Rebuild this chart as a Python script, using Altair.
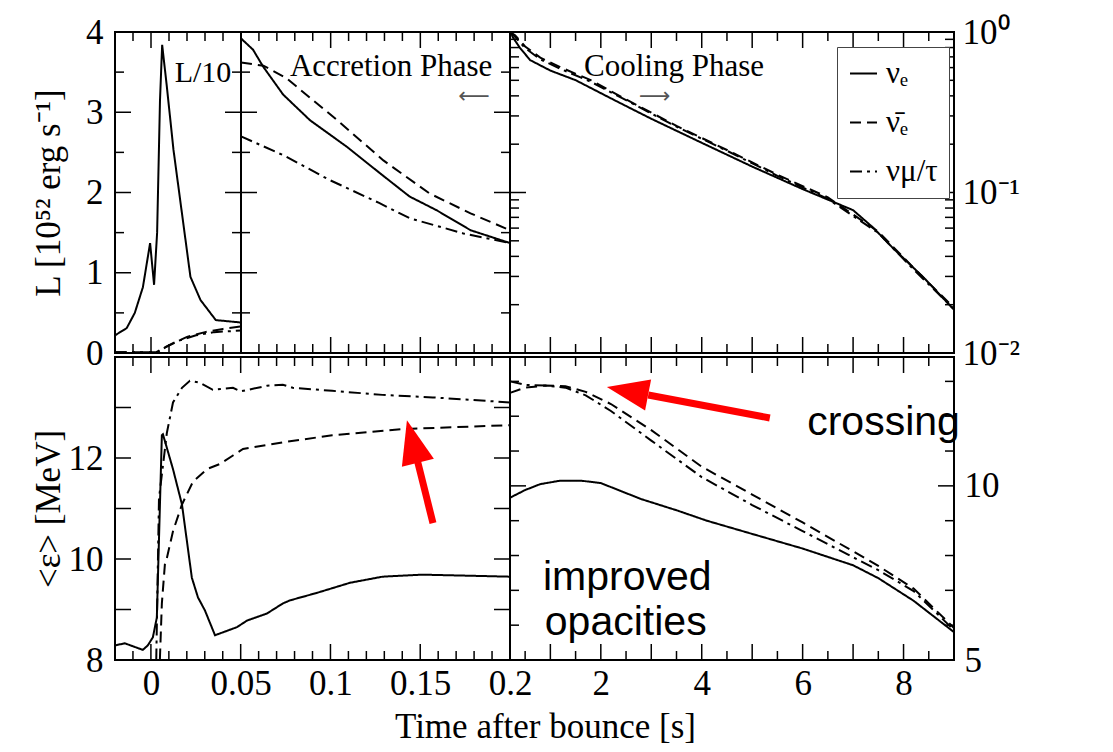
import altair as alt
import pandas as pd

SERIF = "Liberation Serif"
SANS = "Liberation Sans"
RED = "#ff0000"

FLAVORS = ["νₑ", "ν̄ₑ", "νμ/τ"]
DASHES = [[1, 0], [11, 6], [12, 5, 3, 5]]

# ---------------- data ----------------
# top-left panel: L/10 [1e52 erg/s], t in s
A_t_nue = [-0.02, -0.0135, -0.009, -0.0045, -0.0005, 0.0017, 0.0034, 0.005, 0.0062, 0.0088, 0.0125, 0.0172, 0.0219, 0.0275, 0.036, 0.05]
A_L_nue = [0.22, 0.31, 0.5, 0.82, 1.37, 0.85, 1.5, 3.15, 3.84, 3.32, 2.53, 1.74, 0.95, 0.66, 0.41, 0.38]
A_t_anue = [-0.02, 0.003, 0.006, 0.012, 0.02, 0.03, 0.04, 0.05]
A_L_anue = [0.01, 0.01, 0.05, 0.12, 0.2, 0.26, 0.3, 0.33]
A_t_nux = [-0.02, 0.004, 0.008, 0.015, 0.025, 0.035, 0.05]
A_L_nux = [0.01, 0.01, 0.07, 0.15, 0.22, 0.26, 0.28]

# top-middle panel: accretion phase, L [1e52 erg/s]
B_t_nue = [0.05, 0.0567, 0.0623, 0.0735, 0.0885, 0.109, 0.1275, 0.144, 0.159, 0.178, 0.2]
B_L_nue = [3.92, 3.78, 3.57, 3.22, 2.9, 2.57, 2.24, 1.95, 1.78, 1.53, 1.37]
B_t_anue = [0.05, 0.0625, 0.075, 0.1037, 0.1294, 0.155, 0.178, 0.2]
B_L_anue = [3.62, 3.58, 3.43, 2.9, 2.4, 1.99, 1.74, 1.53]
B_t_nux = [0.05, 0.075, 0.099, 0.127, 0.144, 0.174, 0.2]
B_L_nux = [2.7, 2.45, 2.16, 1.87, 1.68, 1.49, 1.37]

# top-right panel: cooling phase (log scale)
C_t_nue = [0.2, 0.25, 0.4, 0.6, 1.0, 1.5, 2.3, 3.0, 4.0, 5.0, 6.0, 7.0, 7.4, 7.8, 8.4, 9.0]
C_L_nue = [1.047, 0.933, 0.794, 0.668, 0.575, 0.501, 0.372, 0.288, 0.204, 0.145, 0.105, 0.0776, 0.0603, 0.0447, 0.0295, 0.0186]
C_t_anue = [0.2, 0.3, 0.5, 0.8, 1.2, 1.8, 2.5, 3.5, 4.5, 5.5, 6.5, 7.5, 8.2, 9.0]
C_L_anue = [1.0, 0.955, 0.813, 0.692, 0.603, 0.501, 0.380, 0.260, 0.184, 0.129, 0.0933, 0.0570, 0.0339, 0.0191]
C_t_nux = [0.2, 0.3, 0.5, 0.8, 1.2, 1.8, 2.5, 3.5, 4.5, 5.5, 6.5, 7.5, 8.2, 9.0]
C_L_nux = [1.0, 0.933, 0.794, 0.676, 0.589, 0.490, 0.376, 0.257, 0.182, 0.127, 0.0912, 0.0560, 0.0331, 0.0188]

# bottom-left panel: mean energy [MeV]
D_t_nue = [-0.02, -0.0145, -0.0045, -0.0017, 0.0011, 0.0033, 0.0045, 0.0061, 0.0067, 0.0123, 0.0173, 0.0228, 0.0262, 0.0301, 0.0357, 0.0479, 0.0535, 0.0646, 0.0735, 0.0774, 0.0925, 0.111, 0.129, 0.151, 0.176, 0.2]
D_E_nue = [8.29, 8.33, 8.2, 8.29, 8.45, 8.84, 10.4, 12.45, 12.47, 11.78, 11.08, 9.63, 9.24, 8.98, 8.49, 8.65, 8.78, 8.92, 9.12, 9.18, 9.33, 9.53, 9.65, 9.69, 9.67, 9.65]
D_t_anue = [0.004, 0.0061, 0.0078, 0.0089, 0.0123, 0.0173, 0.0234, 0.0312, 0.0384, 0.0457, 0.0513, 0.0735, 0.101, 0.139, 0.2]
D_E_anue = [7.0, 9.12, 9.9, 10.02, 10.55, 11.08, 11.53, 11.78, 11.88, 12.05, 12.18, 12.31, 12.45, 12.57, 12.65]
D_t_nux = [0.0025, 0.0045, 0.0089, 0.0123, 0.0173, 0.0217, 0.0273, 0.0345, 0.0457, 0.05, 0.0646, 0.0735, 0.079, 0.101, 0.129, 0.157, 0.2]
D_E_nux = [7.0, 11.2, 12.5, 13.1, 13.39, 13.53, 13.49, 13.35, 13.39, 13.32, 13.43, 13.45, 13.39, 13.33, 13.25, 13.2, 13.1]

# bottom-right panel: mean energy [MeV], cooling
E_t_nue = [0.2, 0.5, 0.8, 1.2, 1.6, 2.0, 2.8, 3.5, 4.1, 5.0, 6.0, 7.0, 7.5, 8.2, 9.0]
E_E_nue = [9.66, 9.88, 10.05, 10.15, 10.15, 10.08, 9.62, 9.3, 9.0, 8.62, 8.2, 7.72, 7.35, 6.7, 5.8]
E_t_anue = [0.2, 0.5, 0.9, 1.3, 1.7, 2.2, 3.0, 4.0, 5.0, 6.0, 7.0, 7.5, 8.2, 9.0]
E_E_anue = [12.67, 12.82, 12.88, 12.86, 12.7, 12.35, 11.6, 10.55, 9.75, 8.95, 8.12, 7.7, 7.05, 5.92]
E_t_nux = [0.2, 0.5, 0.9, 1.3, 1.7, 2.2, 3.0, 4.0, 5.0, 6.0, 7.0, 7.5, 8.2, 9.0]
E_E_nux = [13.0, 12.9, 12.88, 12.82, 12.6, 12.15, 11.3, 10.25, 9.45, 8.7, 7.95, 7.58, 6.98, 5.86]

# time breaks between the sub-panels, value domains, tick values
TOP_BREAKS = [-0.02, 0.05, 0.2, 9.0]
BOT_BREAKS = [-0.02, 0.2, 9.0]
L_YDOM, C_YDOM, D_YDOM, E_YDOM = [0, 4], [0.01, 1], [8, 14], [5, 13.7]

A_XMAJ, A_XMIN = [0], [-0.01, 0.01, 0.02, 0.03, 0.04]
B_XMAJ = [0.1, 0.15]
B_XMIN = [0.06, 0.07, 0.08, 0.09, 0.11, 0.12, 0.13, 0.14, 0.16, 0.17, 0.18, 0.19]
D_XMAJ = [0, 0.05, 0.1, 0.15]
D_XMIN = [-0.01, 0.01, 0.02, 0.03, 0.04, 0.06, 0.07, 0.08, 0.09, 0.11, 0.12, 0.13, 0.14, 0.16, 0.17, 0.18, 0.19]
CE_XMAJ = [1, 2, 3, 4, 5, 6, 7, 8]
CE_XMIN = [0.5, 1.5, 2.5, 3.5, 4.5, 5.5, 6.5, 7.5, 8.5]
L_YMAJ, L_YMIN = [1, 2, 3], [0.5, 1.5, 2.5, 3.5]
C_YMAJ = [0.1]
C_YMIN = [0.02, 0.03, 0.04, 0.05, 0.06, 0.07, 0.08, 0.09, 0.2, 0.3, 0.4, 0.5, 0.6, 0.7, 0.8, 0.9]
D_YMAJ = [9, 10, 11, 12, 13]
E_YMAJ, E_YMIN = [10], [6, 7, 8, 9, 11, 12, 13]
BOTTOM_LABELS = [0, 0.05, 0.1, 0.15, 0.2, 2, 4, 6, 8]

HEAD = "M0,0 L0.75,2 L-0.75,2 Z"
MAJ, MIN = 16, 9
RULE = dict(color="black", strokeWidth=1.5)

# ---------------- geometry of the panels ----------------
WA, WB, WC = 126, 269, 444
WD, WE = 395, 444
HT, HB = 321, 303
WT = WA + WB + WC
WBOT = WD + WE

X_TOP = alt.Scale(domain=TOP_BREAKS, range=[0, WA, WA + WB, WT], nice=False, zero=False)
X_BOT = alt.Scale(domain=BOT_BREAKS, range=[0, WD, WBOT], nice=False, zero=False)
Y_L = alt.Scale(domain=L_YDOM, nice=False, zero=False)
Y_C = alt.Scale(domain=C_YDOM, type="log", nice=False)
Y_D = alt.Scale(domain=D_YDOM, nice=False, zero=False)
Y_E = alt.Scale(domain=E_YDOM, nice=False, zero=False)


def ex(xs, axis=None):
    return alt.X("t:Q", scale=xs, axis=axis)


def ey(ys, axis=None):
    return alt.Y("v:Q", scale=ys, axis=axis)


def series(*parts):
    rows = []
    for flav, ts, vs in parts:
        for t, v in zip(ts, vs):
            rows.append({"t": t, "v": v, "flavor": flav})
    return pd.DataFrame(rows)


def line_layer(df, xs, ys, legend):
    return alt.Chart(df).mark_line(color="black", strokeWidth=2, clip=True).encode(
        x=ex(xs), y=ey(ys),
        strokeDash=alt.StrokeDash("flavor:N", sort=FLAVORS,
                                  scale=alt.Scale(domain=FLAVORS, range=DASHES),
                                  legend=legend))


def xtick_layers(vals, size, xs, h):
    d = pd.DataFrame({"t": vals})
    return [alt.Chart(d).mark_rule(**RULE).encode(x=ex(xs), y=alt.value(h), y2=alt.value(h - size)),
            alt.Chart(d).mark_rule(**RULE).encode(x=ex(xs), y=alt.value(0), y2=alt.value(size))]


def ytick_layer(vals, size, ys, xpix, direction):
    d = pd.DataFrame({"v": vals})
    return alt.Chart(d).mark_rule(**RULE).encode(
        y=ey(ys), x=alt.value(xpix), x2=alt.value(xpix + direction * size))


def divider_layer(vals, xs, h):
    d = pd.DataFrame({"t": vals})
    return alt.Chart(d).mark_rule(color="black", strokeWidth=2).encode(
        x=ex(xs), y=alt.value(0), y2=alt.value(h))


def label_axis(orient, values, **kw):
    base = dict(orient=orient, values=values, ticks=False, tickSize=0, domain=False,
                grid=False, labelFont=SERIF, labelFontSize=35, labelColor="black",
                labelFlush=False, labelOverlap=False, labelBound=False)
    base.update(kw)
    return alt.Axis(**base)


def xlabel_layer(axis, xs, ys, tdom, vdom):
    d = pd.DataFrame({"t": [tdom[0], tdom[-1]], "v": vdom})
    return alt.Chart(d).mark_point(opacity=0).encode(x=ex(xs, axis), y=ey(ys))


def ylabel_layer(axis, xs, ys, tdom, vdom):
    d = pd.DataFrame({"t": [tdom[0], tdom[-1]], "v": vdom})
    return alt.Chart(d).mark_point(opacity=0).encode(x=ex(xs), y=ey(ys, axis))


def text_layer(t, v, text, style, xs, ys):
    d = pd.DataFrame({"t": [t], "v": [v], "label": [text]})
    return alt.Chart(d).mark_text(**style).encode(x=ex(xs), y=ey(ys), text="label:N")


def arrow_layers(ar, xs, ys):
    shaft = pd.DataFrame({"t": [ar["tail"][0], ar["base"][0]], "v": [ar["tail"][1], ar["base"][1]]})
    tip = pd.DataFrame({"t": [ar["tip"][0]], "v": [ar["tip"][1]]})
    return [alt.Chart(shaft).mark_line(color=RED, strokeWidth=7, strokeCap="butt").encode(
                x=ex(xs), y=ey(ys)),
            alt.Chart(tip).mark_point(shape=HEAD, filled=True, fill=RED, strokeWidth=0, opacity=1,
                                      size=ar["size"], angle=ar["angle"]).encode(x=ex(xs), y=ey(ys))]


serif_title = dict(titleFont=SERIF, titleFontSize=35, titleFontWeight="normal", titleColor="black")
phase_style = dict(font=SERIF, fontSize=31, color="black", align="center", baseline="middle")
small_arrow = dict(font="DejaVu Sans", fontSize=22, color="#555555", align="center", baseline="middle")
big_sans = dict(font=SANS, fontSize=41, color="black", align="left", baseline="alphabetic")

LEG = alt.Legend(orient="none", legendX=WA + WB + 327, legendY=15, title=None, symbolType="stroke",
                 symbolSize=729, symbolStrokeWidth=2, symbolStrokeColor="black",
                 labelFont=SERIF, labelFontSize=31, labelColor="black",
                 strokeColor="#444444", fillColor="white", padding=11, rowPadding=17,
                 labelOffset=7)

# ---------------- top row: luminosities ----------------
top_layers = [
    line_layer(series((FLAVORS[0], A_t_nue, A_L_nue), (FLAVORS[1], A_t_anue, A_L_anue),
                      (FLAVORS[2], A_t_nux, A_L_nux)), X_TOP, Y_L, LEG),
    line_layer(series((FLAVORS[0], B_t_nue, B_L_nue), (FLAVORS[1], B_t_anue, B_L_anue),
                      (FLAVORS[2], B_t_nux, B_L_nux)), X_TOP, Y_L, LEG),
    line_layer(series((FLAVORS[0], C_t_nue, C_L_nue), (FLAVORS[1], C_t_anue, C_L_anue),
                      (FLAVORS[2], C_t_nux, C_L_nux)), X_TOP, Y_C, LEG),
    divider_layer(TOP_BREAKS[1:3], X_TOP, HT),
]
top_layers += xtick_layers(A_XMAJ + B_XMAJ + CE_XMAJ, MAJ, X_TOP, HT)
top_layers += xtick_layers(A_XMIN + B_XMIN + CE_XMIN, MIN, X_TOP, HT)
for vals, size in ((L_YMAJ, MAJ), (L_YMIN, MIN)):
    top_layers += [ytick_layer(vals, size, Y_L, 0, 1), ytick_layer(vals, size, Y_L, WA, -1),
                   ytick_layer(vals, size, Y_L, WA, 1), ytick_layer(vals, size, Y_L, WA + WB, -1)]
for vals, size in ((C_YMAJ, MAJ), (C_YMIN, MIN)):
    top_layers += [ytick_layer(vals, size, Y_C, WA + WB, 1), ytick_layer(vals, size, Y_C, WT, -1)]
top_layers += [
    ylabel_layer(label_axis("left", [0, 1, 2, 3, 4], labelPadding=12,
                            title="L [10⁵² erg s⁻¹]", titleX=-67, titleY=HT / 2,
                            titleAngle=270, titleAlign="center", titleBaseline="middle",
                            **serif_title), X_TOP, Y_L, TOP_BREAKS, L_YDOM),
    ylabel_layer(label_axis("right", [0.01, 0.1, 1], labelPadding=8, title=None,
                            labelExpr="datum.value >= 0.5 ? '10⁰' : (datum.value >= 0.05 ? '10⁻¹' : '10⁻²')"),
                 X_TOP, Y_C, TOP_BREAKS, C_YDOM),
    text_layer(0.0289, 3.49, "L/10",
               dict(font=SERIF, fontSize=30, color="black", align="center", baseline="middle"), X_TOP, Y_L),
    text_layer(0.1337, 3.56, "Accretion Phase", phase_style, X_TOP, Y_L),
    text_layer(0.18, 3.2, "⟵", small_arrow, X_TOP, Y_L),
    text_layer(3.45, 0.605, "Cooling Phase", phase_style, X_TOP, Y_C),
    text_layer(3.07, 0.40, "⟶", small_arrow, X_TOP, Y_C),
]
top = alt.layer(*top_layers).resolve_scale(y="independent").resolve_axis(
    x="independent", y="independent").properties(width=WT, height=HT)

# ---------------- bottom row: mean energies ----------------
bot_layers = [
    line_layer(series((FLAVORS[0], D_t_nue, D_E_nue), (FLAVORS[1], D_t_anue, D_E_anue),
                      (FLAVORS[2], D_t_nux, D_E_nux)), X_BOT, Y_D, None),
    line_layer(series((FLAVORS[0], E_t_nue, E_E_nue), (FLAVORS[1], E_t_anue, E_E_anue),
                      (FLAVORS[2], E_t_nux, E_E_nux)), X_BOT, Y_E, None),
    divider_layer(BOT_BREAKS[1:2], X_BOT, HB),
]
bot_layers += xtick_layers(D_XMAJ + CE_XMAJ, MAJ, X_BOT, HB)
bot_layers += xtick_layers(D_XMIN + CE_XMIN, MIN, X_BOT, HB)
bot_layers += [ytick_layer(D_YMAJ, MAJ, Y_D, 0, 1), ytick_layer(D_YMAJ, MAJ, Y_D, WD, -1)]
for vals, size in ((E_YMAJ, MAJ), (E_YMIN, MIN)):
    bot_layers += [ytick_layer(vals, size, Y_E, WD, 1), ytick_layer(vals, size, Y_E, WBOT, -1)]
bot_layers += [
    ylabel_layer(label_axis("left", [8, 10, 12], labelPadding=12,
                            title="<ε> [MeV]", titleX=-67, titleY=HB / 2,
                            titleAngle=270, titleAlign="center", titleBaseline="middle",
                            **serif_title), X_BOT, Y_D, BOT_BREAKS, D_YDOM),
    ylabel_layer(label_axis("right", [5, 10], labelPadding=10, title=None),
                 X_BOT, Y_E, BOT_BREAKS, E_YDOM),
    xlabel_layer(label_axis("bottom", BOTTOM_LABELS, labelPadding=6,
                            labelExpr="format(datum.value, '~g')",
                            title="Time after bounce [s]", titleX=430, titleY=66,
                            titleAngle=0, titleAlign="center", titleBaseline="middle",
                            **serif_title), X_BOT, Y_D, BOT_BREAKS, D_YDOM),
    text_layer(6.09, 11.47, "crossing", big_sans, X_BOT, Y_E),
    text_layer(0.854, 7.01, "improved", big_sans, X_BOT, Y_E),
    text_layer(0.89, 5.72, "opacities", big_sans, X_BOT, Y_E),
]
bot_layers += arrow_layers({"tip": (0.1426, 12.75), "base": (0.1482, 11.98), "tail": (0.1571, 10.71),
                            "size": 1936, "angle": 345.6}, X_BOT, Y_D)
bot_layers += arrow_layers({"tip": (2.12, 12.84), "base": (2.94, 12.61), "tail": (5.35, 11.95),
                            "size": 1764, "angle": 281}, X_BOT, Y_E)
bottom = alt.layer(*bot_layers).resolve_scale(y="independent").resolve_axis(
    x="independent", y="independent").properties(width=WBOT, height=HB)

chart = alt.vconcat(top, bottom, spacing=4, bounds="flush").resolve_scale(
    x="independent", y="independent", strokeDash="independent").resolve_legend(
    strokeDash="independent").properties(
    padding={"left": 30, "top": 14, "right": 5, "bottom": 5}
).configure(background="white").configure_view(stroke="black", strokeWidth=2)

chart.save("out.html", embed_options={"renderer": "svg", "actions": False})
